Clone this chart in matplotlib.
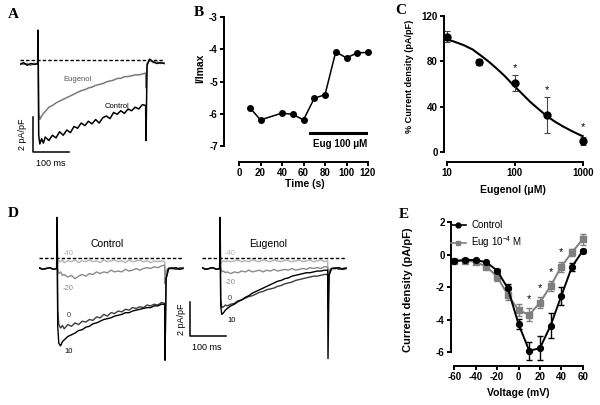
import matplotlib
matplotlib.use('Agg')
import matplotlib.pyplot as plt
from matplotlib.lines import Line2D

plt.rcParams['font.family'] = 'Liberation Sans'
plt.rcParams['axes.unicode_minus'] = False
plt.rcParams['mathtext.fontset'] = 'custom'
plt.rcParams['mathtext.rm'] = 'Liberation Sans'
plt.rcParams['mathtext.it'] = 'Liberation Sans:italic'
plt.rcParams['mathtext.bf'] = 'Liberation Sans:bold'

# ---------------- data ----------------
# Panel A / D: sampled current traces (ms, pA/pF)
T = [-50, -40, -30, -20, -10, -1, 0, 2, 5, 10, 15, 20,
     30, 40, 50, 60, 70, 80, 90, 100, 110, 120, 130, 140, 150, 160, 170,
     180, 190, 200, 210, 220, 230, 240, 250, 260, 270, 280, 290,
     299, 300, 303, 310, 320, 330, 340, 350]

A_CONTROL = [-0.25, -0.15, -0.3, -0.2, -0.25, -0.2, 1.7, -4.3, -4.8, -4.5, -4.75, -4.4,
             -4.6, -4.3, -4.45, -4.1, -4.3, -4.0, -4.15, -3.8, -3.9, -3.6, -3.75, -3.5,
             -3.65, -3.4, -3.6, -3.3, -3.2, -3.35, -3.0, -3.1, -2.9, -3.05, -2.8, -2.9,
             -2.7, -2.8, -2.55, -2.6, -4.6, -0.3, 0.05, -0.1, -0.2, -0.15, -0.2]
A_EUGENOL = [-0.2, -0.25, -0.2, -0.3, -0.2, -0.25, 1.7, -3.0, -3.4, -3.2, -3.05, -2.95,
             -2.7, -2.6, -2.45, -2.35, -2.25, -2.15, -2.05, -1.95, -1.85, -1.75, -1.7, -1.6,
             -1.55, -1.45, -1.4, -1.35, -1.25, -1.2, -1.15, -1.05, -1.05, -0.95, -0.95, -0.9,
             -0.85, -0.85, -0.8, -0.75, -1.6, -0.2, 0.0, -0.15, -0.1, -0.2, -0.15]

D_LEVELS = ['-40', '-20', '0', '10']
D_CONTROL = [
    [-0.55, -0.65, -0.6, -0.55, -0.65, -0.6, 2.4, -0.3, -0.15, -0.2, -0.1, -0.25,
     -0.15, -0.2, -0.1, -0.25, -0.15, -0.2, -0.1, -0.2, -0.15, -0.25, -0.1, -0.2,
     -0.15, -0.1, -0.2, -0.15, -0.25, -0.1, -0.2, -0.15, -0.1, -0.2, -0.15, -0.25,
     -0.15, -0.2, -0.15, -0.2, -0.9, -0.7, -0.55, -0.6, -0.55, -0.65, -0.6],
    [-0.55, -0.65, -0.6, -0.55, -0.65, -0.6, 2.4, -0.6, -0.9, -0.8, -1.0, -0.95,
     -1.1, -1.0, -1.2, -1.05, -0.95, -1.05, -0.9, -0.95, -0.8, -0.9, -0.8, -0.85,
     -0.7, -0.8, -0.75, -0.8, -0.65, -0.75, -0.7, -0.6, -0.7, -0.6, -0.55, -0.6,
     -0.5, -0.55, -0.45, -0.4, -1.5, -0.8, -0.6, -0.6, -0.65, -0.55, -0.6],
    [-0.55, -0.65, -0.6, -0.55, -0.65, -0.6, 2.4, -3.0, -3.9, -4.1, -3.95, -4.15,
     -3.9, -4.0, -3.8, -3.9, -3.7, -3.75, -3.6, -3.65, -3.45, -3.5, -3.3, -3.4,
     -3.2, -3.25, -3.1, -3.15, -3.0, -3.05, -2.9, -2.95, -2.85, -2.9, -2.75, -2.8,
     -2.7, -2.75, -2.6, -2.65, -5.9, -1.2, -0.6, -0.55, -0.65, -0.6, -0.55],
    [-0.55, -0.65, -0.6, -0.55, -0.65, -0.6, 2.4, -4.0, -5.0, -5.15, -4.9, -4.8,
     -4.6, -4.5, -4.4, -4.25, -4.2, -4.05, -4.0, -3.85, -3.8, -3.7, -3.6, -3.55,
     -3.5, -3.4, -3.35, -3.3, -3.2, -3.2, -3.1, -3.05, -3.0, -2.95, -2.9, -2.9,
     -2.8, -2.8, -2.7, -2.7, -6.0, -1.2, -0.6, -0.6, -0.55, -0.65, -0.6],
]
D_EUGENOL = [
    [-0.55, -0.65, -0.6, -0.55, -0.65, -0.6, 2.4, -0.3, -0.2, -0.15, -0.2, -0.15,
     -0.2, -0.15, -0.1, -0.2, -0.15, -0.2, -0.1, -0.15, -0.2, -0.1, -0.15, -0.2,
     -0.1, -0.15, -0.2, -0.1, -0.15, -0.2, -0.15, -0.1, -0.2, -0.15, -0.1, -0.2,
     -0.15, -0.1, -0.2, -0.15, -0.8, -0.65, -0.6, -0.6, -0.55, -0.65, -0.6],
    [-0.55, -0.65, -0.6, -0.55, -0.65, -0.6, 2.4, -0.5, -0.8, -0.75, -0.85, -0.8,
     -0.9, -0.8, -0.85, -0.75, -0.8, -0.7, -0.8, -0.75, -0.7, -0.8, -0.7, -0.75,
     -0.65, -0.75, -0.7, -0.65, -0.7, -0.6, -0.7, -0.65, -0.6, -0.65, -0.55, -0.6,
     -0.55, -0.6, -0.5, -0.5, -1.2, -0.7, -0.6, -0.6, -0.55, -0.65, -0.6],
    [-0.55, -0.65, -0.6, -0.55, -0.65, -0.6, 2.4, -2.4, -2.9, -2.85, -2.75, -2.8,
     -2.7, -2.65, -2.5, -2.45, -2.35, -2.25, -2.2, -2.1, -2.0, -1.95, -1.85, -1.8,
     -1.75, -1.65, -1.6, -1.5, -1.45, -1.4, -1.3, -1.25, -1.2, -1.15, -1.1, -1.05,
     -1.05, -1.0, -0.95, -0.95, -3.0, -0.9, -0.6, -0.55, -0.65, -0.6, -0.55],
    [-0.55, -0.65, -0.6, -0.55, -0.65, -0.6, 2.4, -2.8, -3.3, -3.2, -3.05, -2.95,
     -2.8, -2.7, -2.55, -2.45, -2.3, -2.2, -2.05, -1.95, -1.85, -1.75, -1.65, -1.55,
     -1.45, -1.35, -1.3, -1.2, -1.15, -1.05, -1.0, -0.95, -0.9, -0.85, -0.85, -0.8,
     -0.75, -0.75, -0.7, -0.7, -5.9, -1.0, -0.6, -0.6, -0.55, -0.65, -0.6],
]

# Panel B: time course
B_TIME = [10, 20, 40, 50, 60, 70, 80, 90, 100, 110, 120]
B_IMAX = [-5.81, -6.19, -5.98, -6.02, -6.19, -5.52, -5.41, -4.08, -4.27, -4.11, -4.10]
B_BAR = [66, 120]

# Panel C: concentration-response
C_CONC = [10, 30, 100, 300, 1000]
C_MEAN = [101.8, 79.7, 61.2, 32.6, 9.7]
C_SEM = [5.0, 2.5, 7.0, 15.6, 3.4]
C_FIT_X = [10, 13, 17.6, 24, 31, 41, 54, 72, 95.5, 128, 168, 225, 295, 390, 519, 700, 912, 1000]
C_FIT_Y = [99.4, 97.3, 94.4, 90.5, 85.6, 80.0, 73.8, 66.8, 59.0, 51.5, 44.4, 37.8, 31.8, 26.8, 22.4, 18.3, 15.0, 14.0]
C_STAR_X = [100, 300, 1000]
C_STAR_Y = [73.8, 54.7, 22.4]

# Panel E: I-V relationship
E_V = [-60, -50, -40, -30, -20, -10, 0, 10, 20, 30, 40, 50, 60]
E_CTRL = [-0.38, -0.32, -0.32, -0.46, -0.97, -2.06, -4.26, -5.90, -5.75, -4.36, -2.53, -0.73, 0.24]
E_CTRL_ERR = [0.08, 0.08, 0.08, 0.1, 0.12, 0.25, 0.3, 0.55, 0.75, 0.77, 0.55, 0.25, 0.12]
E_EUG = [-0.38, -0.36, -0.44, -0.73, -1.34, -2.47, -3.40, -3.70, -2.94, -1.92, -0.73, 0.15, 0.95]
E_EUG_ERR = [0.08, 0.08, 0.1, 0.12, 0.25, 0.3, 0.35, 0.4, 0.35, 0.3, 0.3, 0.2, 0.35]
E_STAR_X = [10, 20, 30, 40]
E_STAR_Y = [-2.74, -2.06, -1.04, 0.19]

# ---------------- figure ----------------
W, H = 600, 405
fig = plt.figure(figsize=(6, 4.05), dpi=100)


def px_axes(x0, y0, x1, y1):
    return fig.add_axes([x0 / W, 1 - y1 / H, (x1 - x0) / W, (y1 - y0) / H])


def ftext(x, y, s, **kw):
    fig.text(x / W, 1 - y / H, s, **kw)


def prism(ax, left_out, bottom_out, xticks, xlabels, yticks, ylabels):
    for s in ['top', 'right']:
        ax.spines[s].set_visible(False)
    ax.spines['left'].set_position(('outward', left_out * 0.72))
    ax.spines['bottom'].set_position(('outward', bottom_out * 0.72))
    for s in ['left', 'bottom']:
        ax.spines[s].set_linewidth(1.4)
    ax.set_xticks(xticks, xlabels, fontweight='bold', fontsize=7)
    ax.set_yticks(yticks, ylabels, fontweight='bold', fontsize=7)
    ax.minorticks_off()
    ax.tick_params(width=1.4, length=3, pad=1.5)
    ax.patch.set_visible(False)


LETTER = dict(family='Liberation Serif', fontweight='bold', fontsize=11, ha='center', va='center')
AXLAB = dict(fontweight='bold', fontsize=7.5, ha='center', va='center')

# ---- Panel A ----
axA = px_axes(20, 25, 165, 170)
axA.set_xlim(-50, -50 + 145 / 0.36)
axA.set_ylim(-110 / 17.5, 35 / 17.5)
axA.axis('off')
axA.plot([T[0], T[-1]], [0, 0], color='black', lw=1.0, ls=(0, (2.5, 1.5)))
axA.plot(T, A_EUGENOL, color='#7a7a7a', lw=1.1)
axA.plot(T, A_CONTROL, color='black', lw=1.1)
axA.text(111, -1.14, 'Eugenol', fontsize=5.5, color='#555555', ha='center', va='center')
axA.text(219, -2.63, 'Control', fontsize=5.5, color='black', ha='center', va='center')
sx, sy = -13.9, -5.26
axA.plot([sx, sx, sx + 100], [sy + 2, sy, sy], color='black', lw=1.1, clip_on=False)
axA.text(-41.7, sy + 1, '2 pA/pF', rotation=90, fontsize=6.5, ha='center', va='center')
axA.text(sx + 50, -5.9, '100 ms', fontsize=6.5, ha='center', va='center')
ftext(13, 14, 'A', **LETTER)

# ---- Panel B ----
axB = px_axes(239, 17, 368, 146)
axB.set_xlim(0, 120)
axB.set_ylim(-7, -3)
prism(axB, 15, 16, range(0, 121, 20), [str(v) for v in range(0, 121, 20)],
      [-7, -6, -5, -4, -3], ['-7', '-6', '-5', '-4', '-3'])
axB.plot(B_TIME, B_IMAX, color='black', lw=1.1, marker='o', ms=4, clip_on=False)
axB.plot(B_BAR, [-6.6, -6.6], color='black', lw=2.2)
axB.text(sum(B_BAR) / 2 + 1, -6.94, 'Eug 100 μM', fontsize=7, fontweight='bold',
         ha='center', va='center')
ftext(200, 68, 'I/Imax', rotation=90, **AXLAB)
ftext(305, 184, 'Time (s)', **AXLAB)
ftext(199, 13, 'B', **LETTER)

# ---- Panel C ----
axC = px_axes(446.7, 16, 582.7, 152)
axC.set_xscale('log')
axC.set_xlim(10, 1000)
axC.set_ylim(0, 120)
prism(axC, 2.7, 10, [10, 100, 1000], ['10', '100', '1000'],
      [0, 40, 80, 120], ['0', '40', '80', '120'])
axC.plot(C_FIT_X, C_FIT_Y, color='black', lw=1.5, clip_on=False)
axC.errorbar(C_CONC, C_MEAN, yerr=C_SEM, fmt='o', color='black', ms=5,
             ecolor='#444444', elinewidth=0.8, capsize=2.5, capthick=0.8, clip_on=False)
for x, y in zip(C_STAR_X, C_STAR_Y):
    axC.text(x, y, '*', fontsize=8, ha='center', va='center')
ftext(409, 76, '% Current density (pA/pF)', rotation=90, **dict(AXLAB, fontsize=6.6))
ftext(401, 11, 'C', **LETTER)
ftext(513, 190, 'Eugenol (μM)', **AXLAB)

# ---- Panel D ----
for i, (x0, traces, title) in enumerate([(39, D_CONTROL, 'Control'), (202, D_EUGENOL, 'Eugenol')]):
    ax = px_axes(x0, 210, x0 + 145, 365)
    ax.set_xlim(-50, -50 + 145 / 0.36)
    ax.set_ylim(-(365 - 258.3) / 17, (258.3 - 210) / 17)
    ax.axis('off')
    colors = ['#b4b4b4', '#8a8a8a', '#3c3c3c', 'black']
    ax.plot([T[0], T[-1]], [0, 0], color='black', lw=1.0, ls=(0, (2.5, 1.5)), zorder=5)
    for tr, c in zip(traces, colors):
        ax.plot(T, tr, color=c, lw=1.0)
    ax.text(-50 + 68 / 0.36 if i == 0 else -50 + 66 / 0.36, 0.84, title, fontsize=7.5,
            ha='center', va='center')
    if i == 0:
        pos = [(30.6, 0.31), (30.6, -1.8), (33, -3.39), (33, -5.5)]
        sx, sy = -50 + 151 / 0.36, -4.57
        ax.plot([sx, sx, sx + 100], [sy + 2, sy, sy], color='black', lw=1.1, clip_on=False)
        ax.text(-50 + 143 / 0.36, sy + 1, '2 pA/pF', rotation=90, fontsize=6.5,
                ha='center', va='center')
        ax.text(sx + 47, -5.22, '100 ms', fontsize=6.5, ha='center', va='center')
    else:
        pos = [(27.8, 0.31), (27.8, -1.45), (27.8, -2.34), (33, -3.63)]
    for lab, (x, y), c in zip(D_LEVELS, pos, colors):
        ax.text(x, y, lab, fontsize=5.5, color=c, ha='center', va='center')
ftext(13, 214, 'D', **LETTER)

# ---- Panel E ----
axE = px_axes(454.3, 222.3, 582.7, 352.3)
axE.set_xlim(-60, 60)
axE.set_ylim(-6, 2)
prism(axE, 3.3, 13.7, range(-60, 61, 20), [str(v) for v in range(-60, 61, 20)],
      [-6, -4, -2, 0, 2], ['-6', '-4', '-2', '0', '2'])
gray = '#7f7f7f'
axE.errorbar(E_V, E_EUG, yerr=E_EUG_ERR, color=gray, marker='s', ms=4.2, lw=1.4,
             elinewidth=1.0, capsize=2.5, capthick=1.0, clip_on=False)
axE.errorbar(E_V, E_CTRL, yerr=E_CTRL_ERR, color='black', marker='o', ms=4.2, lw=1.4,
             elinewidth=1.0, capsize=2.5, capthick=1.0, clip_on=False)
for x, y in zip(E_STAR_X, E_STAR_Y):
    axE.text(x, y, '*', fontsize=8, ha='center', va='center')
handles = [Line2D([], [], color='black', marker='o', ms=3.5, lw=1.2),
           Line2D([], [], color=gray, marker='s', ms=3.5, lw=1.2)]
fig.legend(handles, ['Control', 'Eug 10$^{-4}$ M'], loc='upper left',
           bbox_to_anchor=(451 / W, 1 - 220 / H), frameon=False, fontsize=7,
           handlelength=1.5, handletextpad=0.6, labelspacing=0.45,
           borderpad=0, borderaxespad=0)
ftext(408, 290, 'Current density (pA/pF)', rotation=90, **dict(AXLAB, fontsize=8))
ftext(518, 393, 'Voltage (mV)', **AXLAB)
ftext(404, 215, 'E', **LETTER)

fig.savefig('out.png', dpi=100)
